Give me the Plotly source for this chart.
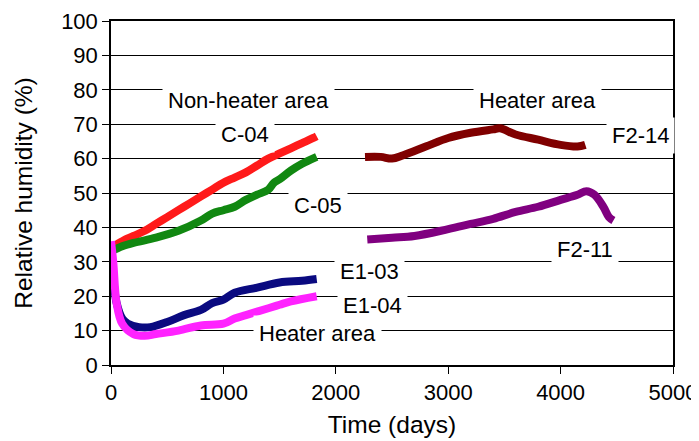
import plotly.graph_objects as go

# Non-heater area sensors
c04_days = [0, 50, 100, 200, 300, 400, 500, 600, 700, 800, 900, 1000, 1100, 1200, 1300, 1400, 1500, 1600, 1700, 1800, 1830]
c04_rh = [33, 35, 36, 37.5, 39, 41, 43, 45, 47, 49, 51, 53, 54.5, 56, 58, 60, 61.5, 63, 64.5, 66, 66.5]

c05_days = [0, 100, 200, 400, 600, 800, 900, 1000, 1100, 1200, 1300, 1400, 1450, 1500, 1600, 1700, 1830]
c05_rh = [33, 34.5, 35.5, 37, 39, 42, 44, 45, 46, 48, 49.5, 51, 53, 54, 56.5, 58.5, 60.5]

# Heater area sensors (near)
e103_days = [0, 20, 50, 100, 150, 250, 350, 500, 650, 800, 900, 1000, 1100, 1300, 1500, 1700, 1830]
e103_rh = [33, 25, 18, 13.5, 12, 11, 11, 12.5, 14.5, 16, 18, 19, 21, 22.5, 24, 24.5, 25]

e104_days = [0, 20, 50, 100, 200, 300, 400, 600, 800, 1000, 1100, 1200, 1400, 1500, 1600, 1830]
e104_rh = [36, 30, 18, 12, 9, 8.5, 9, 10, 11.5, 12, 13.5, 14.5, 16.5, 17.5, 18.5, 20]

# Heater area sensors (far)
f214_days = [2260, 2400, 2500, 2600, 2800, 3000, 3200, 3400, 3460, 3600, 3800, 4000, 4150, 4220]
f214_rh = [60.5, 60.5, 60, 61, 63.5, 66, 67.5, 68.5, 68.8, 67, 65.5, 64, 63.5, 64]

f211_days = [2280, 2500, 2700, 3000, 3200, 3400, 3600, 3800, 4000, 4150, 4230, 4300, 4380, 4430, 4470]
f211_rh = [36.5, 37, 37.5, 39.5, 41, 42.5, 44.5, 46, 48, 49.5, 50.5, 49.5, 46, 43, 42]

labels = ["Non-heater area", "Heater area", "C-04", "C-05", "F2-14", "F2-11", "E1-03", "E1-04", "Heater area"]
label_x = [1220, 3790, 1190, 1840, 4710, 4220, 2300, 2330, 1840]
label_y = [77, 77, 67, 46.5, 66.7, 33.6, 27.3, 17.2, 9.2]

series = [
    (c04_days, c04_rh, "#ff1a1a"),
    (c05_days, c05_rh, "#118811"),
    (e103_days, e103_rh, "#0a0a80"),
    (e104_days, e104_rh, "#ff22ff"),
    (f214_days, f214_rh, "#800000"),
    (f211_days, f211_rh, "#800080"),
]

fig = go.Figure()
for xs, ys, col in series:
    fig.add_trace(go.Scatter(x=xs, y=ys, mode="lines", line=dict(color=col, width=8, shape="spline"),
                             showlegend=False))

for t, x, y in zip(labels, label_x, label_y):
    fig.add_annotation(x=x, y=y, text=t, showarrow=False, bgcolor="white", borderpad=5,
                       font=dict(size=22, color="black"))

font = "Liberation Sans, Arial, sans-serif"
# page body has an 8px margin, so shift the plot margins by that
fig.update_layout(
    width=699, height=441,
    margin=dict(l=103, r=34, t=13, b=84),
    paper_bgcolor="white", plot_bgcolor="white",
    font=dict(family=font, size=22, color="black"),
    xaxis=dict(range=[0, 5000], dtick=1000, showgrid=False, zeroline=False, automargin=False,
               showline=True, linecolor="black", linewidth=1.5, mirror=True,
               ticks="outside", ticklen=7, tickcolor="black", ticklabeloverflow="allow",
               title=dict(text="Time (days)", font=dict(size=24.5), standoff=12)),
    yaxis=dict(range=[0, 100], dtick=10, showgrid=True, gridcolor="black", gridwidth=1.3,
               zeroline=False, showline=True, linecolor="black", linewidth=1.5, mirror=True,
               automargin=False, ticks="outside", ticklen=7, tickcolor="black",
               ticklabeloverflow="allow",
               title=dict(text="Relative humidity (%)", font=dict(size=24.5), standoff=22)),
)

fig.write_html("out.html")
